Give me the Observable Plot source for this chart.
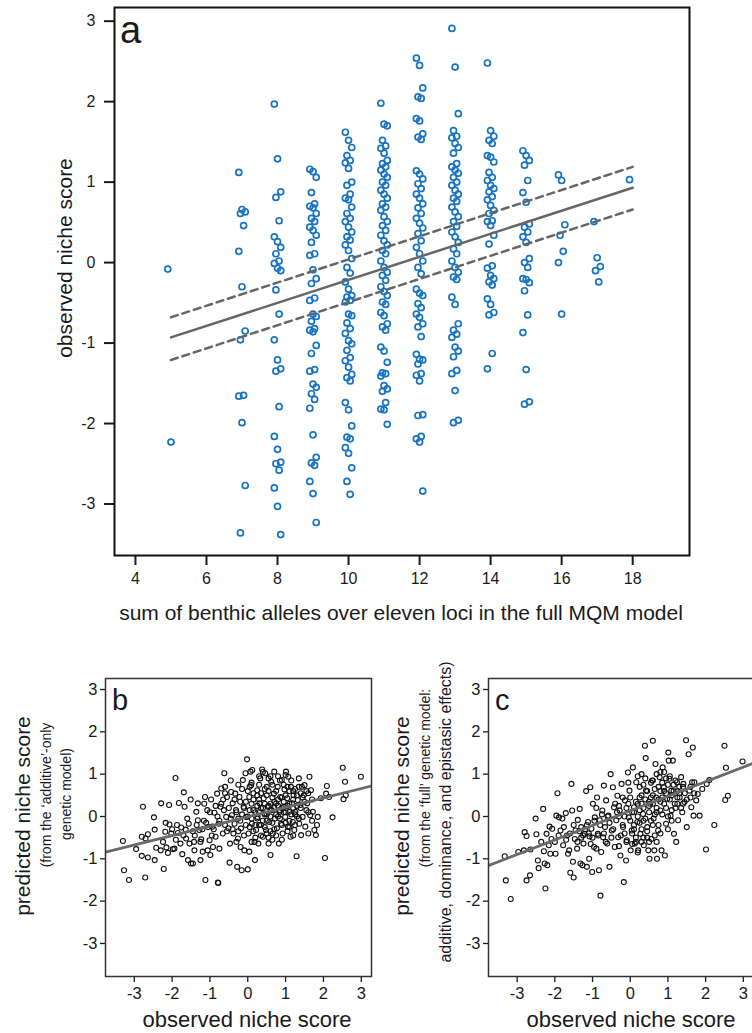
<!DOCTYPE html>
<html><head><meta charset="utf-8">
<script src="https://cdn.jsdelivr.net/npm/d3@7"></script>
<script src="https://cdn.jsdelivr.net/npm/@observablehq/plot@0.6"></script>
<style>
html,body{margin:0;padding:0;background:#fff;overflow:hidden;}
#wrap{position:relative;width:752px;height:1033px;overflow:hidden;}
#wrap svg{position:absolute;max-width:none;}
</style></head><body><div id="wrap"></div>
<script>
// ---------- Panel a data ----------
const alleleSums = [5, 7, 8, 9, 10, 11, 12, 13, 14, 15, 16, 17, 18];
const col5 = [-0.08, -2.23];
const col7 = [1.12, 0.66, 0.63, 0.61, 0.46, 0.14, -0.30, -0.85, -0.96, -1.65, -1.66, -1.99, -2.77, -3.36];
const col8 = [1.97, 1.29, 0.88, 0.81, 0.52, 0.32, 0.26, 0.19, 0.11, 0.02, -0.01, -0.07, -0.10, -0.34, -0.64, -0.96, -1.21, -1.32, -1.35, -1.79, -2.16, -2.32, -2.48, -2.50, -2.58, -2.80, -3.03, -3.38];
const col9 = [1.16, 1.13, 1.06, 0.87, 0.73, 0.70, 0.68, 0.61, 0.55, 0.51, 0.44, 0.40, 0.34, 0.25, 0.11, 0.09, -0.09, -0.20, -0.26, -0.44, -0.47, -0.64, -0.67, -0.73, -0.82, -0.84, -0.86, -1.03, -1.13, -1.33, -1.35, -1.51, -1.55, -1.63, -1.70, -1.81, -2.14, -2.42, -2.49, -2.52, -2.72, -2.87, -3.23];
const col10 = [1.62, 1.52, 1.43, 1.33, 1.27, 1.24, 1.17, 1.00, 0.96, 0.85, 0.80, 0.78, 0.69, 0.61, 0.55, 0.51, 0.44, 0.38, 0.32, 0.28, 0.22, 0.15, 0.05, -0.06, -0.13, -0.24, -0.33, -0.41, -0.43, -0.47, -0.49, -0.64, -0.66, -0.75, -0.82, -0.88, -0.97, -1.01, -1.09, -1.18, -1.22, -1.30, -1.39, -1.43, -1.47, -1.74, -1.83, -2.03, -2.17, -2.19, -2.30, -2.37, -2.55, -2.72, -2.88];
const col11 = [1.98, 1.72, 1.70, 1.52, 1.45, 1.42, 1.36, 1.27, 1.23, 1.19, 1.15, 1.10, 1.06, 1.00, 0.96, 0.90, 0.85, 0.80, 0.73, 0.69, 0.65, 0.57, 0.51, 0.46, 0.40, 0.34, 0.27, 0.22, 0.15, 0.11, 0.02, -0.06, -0.12, -0.16, -0.22, -0.30, -0.36, -0.41, -0.49, -0.52, -0.62, -0.66, -0.76, -0.80, -0.84, -1.05, -1.10, -1.24, -1.37, -1.38, -1.41, -1.53, -1.57, -1.60, -1.74, -1.82, -1.83, -2.01];
const col12 = [2.54, 2.45, 2.17, 2.06, 2.04, 1.79, 1.76, 1.60, 1.56, 1.53, 1.14, 1.10, 1.04, 0.98, 0.92, 0.85, 0.80, 0.73, 0.68, 0.61, 0.55, 0.49, 0.43, 0.36, 0.27, 0.19, 0.11, 0.02, -0.06, -0.14, -0.33, -0.38, -0.41, -0.51, -0.56, -0.64, -0.68, -0.76, -0.80, -0.92, -1.14, -1.20, -1.21, -1.26, -1.38, -1.40, -1.47, -1.89, -1.90, -2.16, -2.19, -2.23, -2.84];
const col13 = [2.91, 2.43, 1.85, 1.64, 1.57, 1.55, 1.48, 1.43, 1.36, 1.23, 1.19, 1.15, 1.11, 1.06, 1.00, 0.96, 0.90, 0.85, 0.80, 0.76, 0.69, 0.63, 0.57, 0.51, 0.45, 0.38, 0.32, 0.25, 0.17, 0.11, 0.02, -0.06, -0.12, -0.18, -0.21, -0.43, -0.52, -0.76, -0.84, -0.89, -0.93, -1.05, -1.10, -1.17, -1.34, -1.38, -1.59, -1.96, -1.99];
const col14 = [2.48, 1.64, 1.57, 1.52, 1.48, 1.33, 1.31, 1.25, 1.12, 1.06, 1.02, 0.96, 0.92, 0.88, 0.82, 0.78, 0.71, 0.65, 0.61, 0.52, 0.51, 0.46, 0.34, 0.23, -0.04, -0.07, -0.16, -0.20, -0.24, -0.28, -0.45, -0.52, -0.62, -0.65, -1.13, -1.32];
const col15 = [1.39, 1.33, 1.27, 1.21, 1.02, 0.87, 0.75, 0.48, 0.44, 0.38, 0.32, 0.25, 0.05, 0.00, -0.06, -0.20, -0.21, -0.25, -0.35, -0.65, -0.87, -1.33, -1.73, -1.76];
const col16 = [1.09, 1.02, 0.47, 0.34, 0.14, 0.00, -0.64];
const col17 = [0.51, 0.06, -0.05, -0.10, -0.24];
const col18 = [1.03];
const nicheScores = [col5, col7, col8, col9, col10, col11, col12, col13, col14, col15, col16, col17, col18];

const aTicksX = [4, 6, 8, 10, 12, 14, 16, 18];
const scoreTicks = [-3, -2, -1, 0, 1, 2, 3];
const aFitX = [5, 18];
const aFitMid = [-0.93, 0.93];
const aFitUpper = [-0.68, 1.19];
const aFitLower = [-1.21, 0.66];

// ---------- Panel b data (observed, predicted additive) ----------
const bPoints = [[-3.30,-0.58],[-3.27,-1.27],[-3.14,-1.50],[-2.95,-0.77],[-2.77,0.23],[-2.80,-0.48],[-2.70,-0.52],[-2.64,-0.42],[-2.80,-0.93],[-2.64,-0.97],[-2.71,-1.44],[-2.48,-0.02],[-2.46,-0.31],[-2.46,-1.03],[-2.42,-0.74],[-2.30,-0.80],[-2.29,0.31],[-2.24,-0.60],[-2.22,-1.24],[-2.17,-0.15],[-2.18,-0.36],[-2.15,-0.73],[-2.11,-0.86],[-2.08,0.27],[-2.07,-0.19],[-2.02,-0.40],[-1.98,-0.77],[-1.94,-0.76],[-1.91,0.91],[-1.87,-0.20],[-1.85,-0.39],[-1.82,0.32],[-1.78,-0.64],[-1.76,-0.26],[-1.73,-0.89],[-1.69,0.57],[-1.67,0.23],[-1.64,-0.31],[-1.63,-0.52],[-1.58,-1.03],[-1.56,-0.17],[-1.54,-0.64],[-1.51,0.40],[-1.50,-1.11],[-1.45,-1.11],[-1.42,-0.60],[-1.41,-0.80],[-1.36,0.11],[-1.32,0.31],[-1.32,-0.09],[-1.28,-0.32],[-1.25,-1.03],[-1.23,-0.54],[-1.19,-0.83],[-1.16,-0.10],[-1.13,0.46],[-1.12,-1.50],[-1.07,0.15],[-1.06,-0.80],[-1.01,-0.56],[-0.99,-0.91],[-0.97,0.40],[-0.94,-0.24],[-0.92,-0.72],[-0.88,0.09],[-0.85,-0.48],[-0.81,0.54],[-0.79,-1.56],[-0.78,-1.57],[-0.77,-0.17],[-0.75,-0.76],[-0.72,0.23],[-0.70,0.66],[-0.66,-0.40],[-0.63,0.15],[-0.62,1.02],[-0.60,0.70],[-0.57,-0.01],[-0.55,0.46],[-0.51,-0.28],[-0.48,-1.09],[-0.47,-0.64],[-0.44,0.58],[-0.42,0.03],[-0.40,0.31],[-0.38,-0.40],[-0.35,-0.17],[-0.33,0.54],[-0.31,0.15],[-0.28,-1.19],[-0.26,-0.52],[-0.25,-0.05],[-0.22,0.46],[-0.19,-0.72],[-0.18,-0.28],[-0.16,-1.27],[-0.13,0.86],[-0.11,0.23],[-0.09,-0.80],[-0.06,1.02],[-0.04,-0.01],[-0.02,1.35],[0.00,-1.25],[0.02,-0.40],[0.04,-0.83],[0.04,0.46],[0.07,1.06],[0.09,0.74],[0.11,-0.17],[0.12,1.10],[0.15,0.15],[0.18,-0.60],[0.19,-1.03],[0.22,-0.32],[0.25,0.62],[0.26,-0.01],[0.28,-0.64],[0.31,0.31],[0.33,0.90],[0.35,-0.20],[0.38,1.11],[0.40,-0.48],[0.42,0.43],[0.44,0.07],[0.46,1.02],[0.48,-0.32],[0.50,0.70],[0.53,0.23],[0.55,-0.64],[0.57,-0.13],[0.60,-0.91],[0.62,0.82],[0.63,0.15],[0.66,-0.40],[0.69,0.54],[0.70,1.06],[0.72,-0.05],[0.75,0.31],[0.77,-0.28],[0.79,0.70],[0.82,-0.64],[0.84,0.11],[0.86,0.46],[0.88,-0.17],[0.90,0.86],[0.92,-0.40],[0.95,0.23],[0.97,0.64],[0.99,-0.01],[1.01,1.06],[1.04,0.43],[1.06,-0.24],[1.07,0.94],[1.10,0.11],[1.13,-0.48],[1.14,0.70],[1.17,0.31],[1.19,-0.13],[1.21,0.50],[1.23,-0.32],[1.26,0.11],[1.29,-0.94],[1.32,0.39],[1.35,0.90],[1.36,-0.17],[1.39,0.27],[1.41,-0.44],[1.43,0.70],[1.45,-0.01],[1.48,0.50],[1.50,0.74],[1.52,-0.24],[1.57,0.31],[1.60,-0.40],[1.63,0.94],[1.65,0.03],[1.67,0.62],[1.72,0.11],[1.76,-0.32],[1.80,-0.44],[1.83,-0.20],[1.85,-0.01],[1.93,0.43],[2.04,-0.98],[2.07,0.54],[2.09,0.72],[2.15,0.46],[2.24,-0.02],[2.51,1.15],[2.53,0.41],[2.57,0.82],[2.59,0.50],[2.99,0.94],
[-0.3,0.1],[-0.2,-0.1],[-0.1,0.2],[0.0,0.0],[0.1,0.3],[0.2,0.1],[0.3,-0.2],[0.3,0.4],[0.4,0.2],[0.5,-0.1],[0.5,0.5],[0.6,0.3],[0.6,0.0],[0.7,0.2],[0.7,-0.3],[0.8,0.4],[0.8,0.0],[0.9,0.2],[0.9,-0.2],[1.0,0.5],[1.0,0.1],[1.1,0.3],[1.1,-0.1],[1.2,0.2],[1.2,0.6],[1.3,0.0],[1.3,0.5],[1.4,0.2],[-0.5,0.2],[-0.6,-0.2],[-0.7,0.3],[-0.8,0.0],[-0.9,-0.3],[-1.0,0.1],[-0.4,-0.3],[-0.2,0.35],[0.15,0.55],[0.45,0.65],[0.65,0.75],[0.85,0.85],[0.35,-0.45],[0.55,-0.5],[0.75,-0.45],[1.15,0.85],[1.45,0.45],[-0.1,-0.45],[0.05,-0.25],[0.25,-0.05],[0.45,0.05],[0.65,0.45],[0.95,0.35],[1.05,-0.35],[1.25,-0.2],[1.55,0.15],[-1.2,-0.3],[-1.4,-0.45],[-1.1,-0.15],[-0.3,-0.6],[0.1,0.8],[0.3,0.75],[0.55,0.9],[0.4,1.05],[0.8,0.95],[1.0,0.98],[1.35,0.7],[1.6,0.55],[1.7,0.4],[-0.6,0.55],[-0.45,0.85],[-0.15,0.65],[0.0,0.6],[0.2,-0.5],[0.6,-0.35],[0.9,-0.55],[1.2,-0.45],
[-0.45,-0.05],[-0.35,0.4],[-0.25,-0.35],[-0.15,0.05],[-0.05,0.35],[0.05,0.15],[0.1,-0.05],[0.15,0.4],[0.2,-0.2],[0.25,0.25],[0.3,0.1],[0.35,0.55],[0.4,-0.1],[0.45,0.3],[0.5,0.05],[0.55,0.6],[0.6,0.15],[0.65,-0.15],[0.7,0.35],[0.75,0.05],[0.8,0.25],[0.85,-0.05],[0.9,0.45],[0.95,0.1],[1.0,-0.15],[1.05,0.25],[1.1,0.6],[1.15,0.05],[1.2,0.4],[1.25,0.65],[1.3,0.25],[1.35,-0.05],[1.4,0.55],[1.5,0.35],[1.55,0.6],[1.6,0.1],[1.7,-0.1],[-0.55,-0.35],[-0.65,0.4],[-0.75,-0.1],[-0.85,0.25],[-0.95,-0.45],[-1.05,-0.25],[-1.15,0.3],[-1.25,-0.6],[-1.35,-0.2],[-1.45,-0.35],[-1.6,-0.05],[-1.7,-0.45],[-1.9,-0.55],[-2.0,-0.3],[0.15,-0.35],[0.35,0.2],[0.55,0.25],[0.75,0.6],[0.95,0.75],[0.25,0.5],[0.05,0.7],[-0.25,0.75],[0.45,-0.25],[0.65,-0.55],[0.85,0.15],[1.05,0.7],[1.25,0.05],[0.3,0.95],[0.6,0.95],[0.1,-0.6],[-0.05,-0.2],[0.5,-0.4],[1.1,-0.25]];
const bFitX = [-3.76, 3.27];
const bFitY = [-0.84, 0.72];

// ---------- Panel c data (observed, predicted full model) ----------
const cPoints = [[-3.33,-0.94],[-3.30,-1.51],[-3.17,-1.95],[-2.97,-0.84],[-2.82,-0.80],[-2.80,-0.37],[-2.75,-0.46],[-2.75,-1.51],[-2.66,-1.39],[-2.65,-0.78],[-2.51,-0.05],[-2.49,-0.42],[-2.45,-1.04],[-2.43,-1.22],[-2.36,-0.60],[-2.31,0.18],[-2.29,-0.82],[-2.27,-1.11],[-2.25,-1.70],[-2.22,-0.41],[-2.20,-1.15],[-2.16,-0.68],[-2.14,-0.24],[-2.12,-0.88],[-2.09,-0.53],[-2.07,-0.29],[-1.98,-0.88],[-1.96,0.02],[-1.93,0.55],[-1.89,-0.02],[-1.85,-0.33],[-1.80,-0.05],[-1.78,-0.68],[-1.76,-0.25],[-1.71,0.08],[-1.68,-0.45],[-1.65,-0.88],[-1.62,-0.80],[-1.59,-1.33],[-1.56,0.77],[-1.54,0.14],[-1.52,-1.07],[-1.50,-1.44],[-1.47,-0.53],[-1.45,-0.33],[-1.41,-0.76],[-1.39,-0.08],[-1.34,0.18],[-1.32,-1.11],[-1.30,-0.25],[-1.27,-1.15],[-1.24,-0.64],[-1.21,-0.41],[-1.17,0.60],[-1.15,-1.19],[-1.12,-0.13],[-1.09,-1.00],[-1.08,-0.47],[-1.06,0.69],[-1.03,-0.29],[-1.01,-1.31],[-0.99,0.30],[-0.96,-0.72],[-0.94,-0.02],[-0.90,-0.76],[-0.88,0.45],[-0.86,-0.41],[-0.83,-1.27],[-0.81,-0.09],[-0.79,-1.87],[-0.77,-0.84],[-0.74,0.14],[-0.72,-0.49],[-0.70,0.73],[-0.67,-0.25],[-0.64,0.38],[-0.61,-0.64],[-0.58,0.02],[-0.55,-1.19],[-0.52,1.00],[-0.49,-0.33],[-0.46,0.69],[-0.43,0.22],[-0.41,-0.72],[-0.37,-0.09],[-0.34,0.49],[-0.32,-0.49],[-0.28,0.14],[-0.26,-0.92],[-0.23,0.77],[-0.19,-0.25],[-0.17,-1.55],[-0.14,0.38],[-0.11,-1.04],[-0.09,-0.56],[-0.06,1.04],[-0.04,-0.02],[-0.02,0.61],[0.01,-0.80],[0.04,-0.33],[0.07,1.16],[0.10,0.22],[0.12,-0.64],[0.16,0.81],[0.19,-0.13],[0.21,-0.80],[0.25,0.45],[0.27,-0.41],[0.30,1.00],[0.34,0.06],[0.36,-0.68],[0.39,1.67],[0.41,1.38],[0.42,0.61],[0.45,-0.25],[0.48,-0.80],[0.51,-1.00],[0.53,0.30],[0.56,-0.53],[0.58,0.85],[0.60,1.79],[0.62,-0.05],[0.64,-0.80],[0.67,1.24],[0.69,0.45],[0.71,-1.00],[0.74,-0.33],[0.78,0.93],[0.80,0.14],[0.83,-0.80],[0.86,1.16],[0.89,0.69],[0.92,-0.92],[0.95,-0.17],[0.98,0.42],[1.01,1.51],[1.02,1.32],[1.04,0.89],[1.07,0.02],[1.09,0.61],[1.13,1.32],[1.16,-0.41],[1.18,0.30],[1.22,-0.60],[1.24,0.81],[1.27,-0.09],[1.31,0.45],[1.35,0.93],[1.38,0.10],[1.41,0.77],[1.44,0.34],[1.48,1.80],[1.50,-0.25],[1.55,1.47],[1.57,0.61],[1.62,0.22],[1.64,0.81],[1.66,1.63],[1.68,0.02],[1.70,0.81],[1.75,0.38],[1.79,0.53],[1.84,0.02],[1.91,0.65],[2.01,-0.78],[2.03,0.77],[2.10,0.86],[2.23,-0.20],[2.50,1.67],[2.52,0.39],[2.54,1.15],[2.59,0.49],[2.98,1.30],
[-0.3,0.0],[-0.2,-0.2],[-0.1,0.2],[0.0,-0.1],[0.1,0.1],[0.2,0.3],[0.3,-0.3],[0.4,0.4],[0.5,0.1],[0.6,0.5],[0.6,-0.2],[0.7,0.2],[0.8,0.6],[0.9,0.3],[1.0,0.0],[1.1,0.5],[1.2,0.2],[1.3,0.7],[0.8,-0.4],[0.45,-0.5],[0.15,-0.5],[-0.5,-0.5],[-0.6,0.0],[-0.8,-0.2],[-1.0,-0.5],[-1.2,-0.3],[-1.4,-0.6],[-0.9,0.2],[-0.4,0.3],[0.0,0.45],[0.25,0.7],[0.55,0.8],[0.85,0.8],[1.15,0.75],[0.35,-0.1],[0.65,0.05],[0.95,0.55],[1.25,0.45],[1.45,0.55],[-0.15,-0.4],[0.05,-0.65],[0.3,-0.6],[0.7,-0.6],[1.0,-0.3],[-0.7,-0.4],[-1.1,-0.4],[-1.3,-0.5],[-1.6,-0.4],[0.4,0.9],[0.7,1.0],[0.9,1.05],[0.2,0.95],[-0.05,0.8],[1.4,0.3],[1.6,0.45],[0.5,0.35],[0.75,0.4],[0.1,-0.3],[-0.3,-0.7],[0.2,-0.85],
[-0.45,-0.3],[-0.35,0.1],[-0.25,-0.45],[-0.15,0.0],[-0.05,0.3],[0.05,0.1],[0.1,-0.2],[0.15,0.35],[0.2,0.0],[0.25,-0.15],[0.3,0.5],[0.35,0.2],[0.4,-0.05],[0.45,0.6],[0.5,0.25],[0.55,-0.1],[0.6,0.3],[0.65,0.65],[0.7,0.1],[0.75,0.7],[0.8,0.35],[0.85,0.05],[0.9,0.6],[0.95,0.2],[1.0,0.75],[1.05,0.4],[1.1,0.15],[1.15,0.6],[1.2,0.85],[1.25,0.3],[1.3,0.55],[1.35,0.2],[1.4,0.7],[1.5,0.4],[1.6,0.7],[1.7,0.55],[-0.55,-0.15],[-0.65,-0.6],[-0.75,0.05],[-0.85,-0.45],[-0.95,-0.1],[-1.05,-0.65],[-1.15,-0.2],[-1.25,-0.45],[-1.35,-0.35],[-1.5,-0.2],[-1.7,-0.55],[-1.9,-0.45],[-2.0,-0.6],[0.15,-0.6],[0.35,0.75],[0.55,0.45],[0.75,-0.2],[0.95,0.9],[0.25,0.15],[0.05,-0.4],[-0.2,0.45],[0.45,-0.35],[0.65,-0.45],[0.85,0.45],[1.05,0.95],[1.25,0.6],[0.3,0.3],[0.6,0.85],[-0.1,-0.6],[0.5,-0.6],[1.1,-0.1],[0.8,1.05],[0.35,-0.5],[-0.3,0.25]];
const cFitX = [-3.77, 3.27];
const cFitY = [-1.16, 1.26];

// ---------- build ----------
const FONT = '"Liberation Sans", Arial, Helvetica, sans-serif';
const wrap = document.getElementById("wrap");
const intFmt = d => String(d);

const aData = alleleSums.flatMap((s, j) => nicheScores[j].map((v, k) => ({sum: s, score: v, k})));
const jitterX = d => d.sum + (((d.k * 7) % 5) - 2) * 0.045;
const toLine = (xs, ys) => xs.map((x, i) => ({x, y: ys[i]}));

function addText(svg, txt, x, y, size, opts = {}) {
  return d3.select(svg).append("text")
    .attr("x", 0).attr("y", 0)
    .attr("transform", `translate(${x},${y})` + (opts.rotate ? ` rotate(${opts.rotate})` : ""))
    .attr("text-anchor", opts.anchor || "middle")
    .attr("font-family", FONT)
    .attr("font-size", size)
    .attr("fill", "#1a1a1a")
    .text(txt);
}

function place(svg, left, top) {
  svg.style.position = "absolute";
  svg.style.left = left + "px";
  svg.style.top = top + "px";
  wrap.appendChild(svg);
}

// Panel a
const A = Plot.plot({
  width: 752, height: 640,
  marginLeft: 114, marginRight: 63, marginTop: 7, marginBottom: 85,
  style: {fontFamily: FONT, fontSize: "16px", color: "#1a1a1a", background: "transparent", overflow: "visible"},
  x: {domain: [3.41, 19.6]},
  y: {domain: [-3.64, 3.17]},
  marks: [
    Plot.axisX({ticks: aTicksX, tickFormat: intFmt, tickSize: 10, tickPadding: 7, strokeWidth: 2, label: null}),
    Plot.axisY({ticks: scoreTicks, tickFormat: intFmt, tickSize: 10, tickPadding: 9, strokeWidth: 2, label: null}),
    Plot.dot(aData, {x: jitterX, y: "score", r: 3, stroke: "#1874c2", strokeWidth: 1.7, fill: "none"}),
    Plot.line(toLine(aFitX, aFitMid), {x: "x", y: "y", stroke: "#666", strokeWidth: 2.5}),
    Plot.line(toLine(aFitX, aFitUpper), {x: "x", y: "y", stroke: "#666", strokeWidth: 2.5, strokeDasharray: "7,5"}),
    Plot.line(toLine(aFitX, aFitLower), {x: "x", y: "y", stroke: "#666", strokeWidth: 2.5, strokeDasharray: "7,5"}),
    Plot.frame({stroke: "#111", strokeWidth: 2})
  ]
});
place(A, 0, 0);
addText(A, "a", 120, 43, 38, {anchor: "start"});
addText(A, "sum of benthic alleles over eleven loci in the full MQM model", 401, 620, 21);
addText(A, "observed niche score", 72, 258, 21, {rotate: -90});

// Panel b & c builder
function smallPanel(points, fitX, fitY, mL, mR) {
  return Plot.plot({
    width: 380, height: 403,
    marginLeft: mL, marginRight: mR, marginTop: 48, marginBottom: 57,
    style: {fontFamily: FONT, fontSize: "16.5px", color: "#1a1a1a", background: "transparent", overflow: "visible"},
    x: {domain: [-3.76, 3.27]},
    y: {domain: [-3.78, 3.26]},
    marks: [
      Plot.axisX({ticks: scoreTicks, tickFormat: intFmt, tickSize: 6, tickPadding: 5, strokeWidth: 1.3, label: null}),
      Plot.axisY({ticks: scoreTicks, tickFormat: intFmt, tickSize: 5, tickPadding: 3, strokeWidth: 1.3, label: null}),
      Plot.dot(points, {x: d => d[0], y: d => d[1], r: 2.5, stroke: "#111", strokeWidth: 1.1, fill: "none"}),
      Plot.line(toLine(fitX, fitY), {x: "x", y: "y", stroke: "#6a6a6a", strokeWidth: 2.8, clip: true}),
      Plot.frame({stroke: "#333", strokeWidth: 1.5})
    ]
  });
}

const B = smallPanel(bPoints, bFitX, bFitY, 105, 9);
place(B, 0, 630);
addText(B, "b", 112, 80, 29, {anchor: "start"});
addText(B, "observed niche score", 247, 397, 22);
addText(B, "predicted niche score", 30, 186, 21, {rotate: -90});
addText(B, "(from the \u2018additive\u2019-only", 51, 165, 14, {rotate: -90});
addText(B, "genetic model)", 71, 164, 14, {rotate: -90});

const C = smallPanel(cPoints, cFitX, cFitY, 108, 7);
place(C, 380, 630);
addText(C, "c", 115, 80, 29, {anchor: "start"});
addText(C, "observed niche score", 251, 397, 22);
addText(C, "predicted niche score", 29, 186, 21, {rotate: -90});
addText(C, "(from the \u2018full\u2019 genetic model:", 50, 148, 14, {rotate: -90});
addText(C, "additive, dominance, and epistasic effects)", 71, 182, 16, {rotate: -90});
</script>
</body></html>
